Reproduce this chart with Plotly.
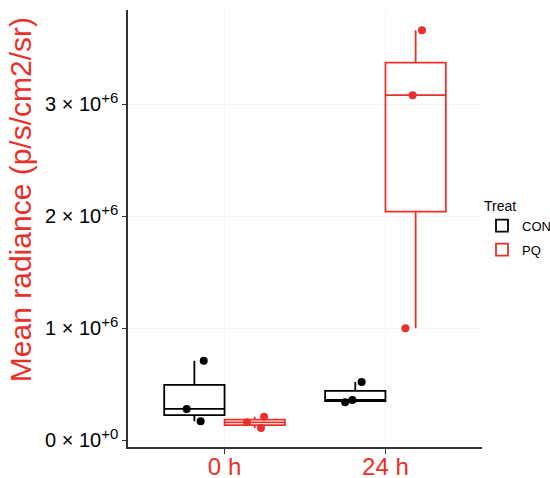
import plotly.graph_objects as go

categories = ["0 h", "24 h"]
con_0h = [0.17e6, 0.28e6, 0.71e6]
con_24h = [0.34e6, 0.36e6, 0.52e6]
pq_0h = [0.11e6, 0.16e6, 0.21e6]
pq_24h = [1.0e6, 3.08e6, 3.66e6]
ytick_vals = [0, 1e6, 2e6, 3e6]
ytick_mant = ["0", "1", "2", "3"]
ytick_exp = ["+0", "+6", "+6", "+6"]

RED = "#E8312A"
FONT = "Liberation Sans, Arial, sans-serif"

ytick_text = [f"{m} × 10<sup><span style='font-size:15px'>{e}</span></sup>"
              for m, e in zip(ytick_mant, ytick_exp)]

fig = go.Figure()
for name, vals, color in [("CON", [con_0h, con_24h], "black"), ("PQ", [pq_0h, pq_24h], RED)]:
    xs, ys = [], []
    for c, v in zip(categories, vals):
        xs += [c] * len(v)
        ys += v
    fig.add_trace(go.Box(
        x=xs, y=ys, name=name, legendgroup=name, boxpoints="all", jitter=0.4, pointpos=0,
        quartilemethod="inclusive",
        fillcolor="rgba(255,255,255,0)", line=dict(color=color, width=1.8),
        marker=dict(color=color, size=8), whiskerwidth=0,
    ))

fig.add_annotation(text="Mean radiance (p/s/cm2/sr)", textangle=-90, xref="paper", yref="paper",
                   x=-0.305, y=0.565, xanchor="center", yanchor="middle", showarrow=False,
                   font=dict(size=30, color=RED))

fig.update_layout(
    width=550, height=478, boxmode="group", boxgap=0.25, boxgroupgap=0,
    plot_bgcolor="white", paper_bgcolor="white",
    margin=dict(l=128, r=68, t=10, b=31, autoexpand=False),
    font=dict(family=FONT, color="black"),
    legend=dict(title=dict(text="Treat", font=dict(size=14)), x=1.0, xanchor="left",
                y=0.5, yanchor="middle", font=dict(size=13), tracegroupgap=4),
    xaxis=dict(range=[-0.6, 1.6], showline=True, linecolor="#333", linewidth=1.5,
               ticks="outside", ticklen=5, tickcolor="#333", tickfont=dict(size=24, color=RED),
               ticklabelstandoff=-8,
               showgrid=True, gridcolor="#F4F4F4", zeroline=False, automargin=False),
    yaxis=dict(range=[-0.06e6, 3.84e6], tickvals=ytick_vals, ticktext=ytick_text,
               showline=True, linecolor="#333", linewidth=1.5, ticks="outside", ticklen=4,
               tickcolor="#333", tickfont=dict(size=20, color="black"),
               showgrid=True, gridcolor="#F4F4F4", zeroline=False, automargin=False),
)
fig.write_html("out.html", post_script="document.body.style.margin='0';",
               config={"displayModeBar": False})
